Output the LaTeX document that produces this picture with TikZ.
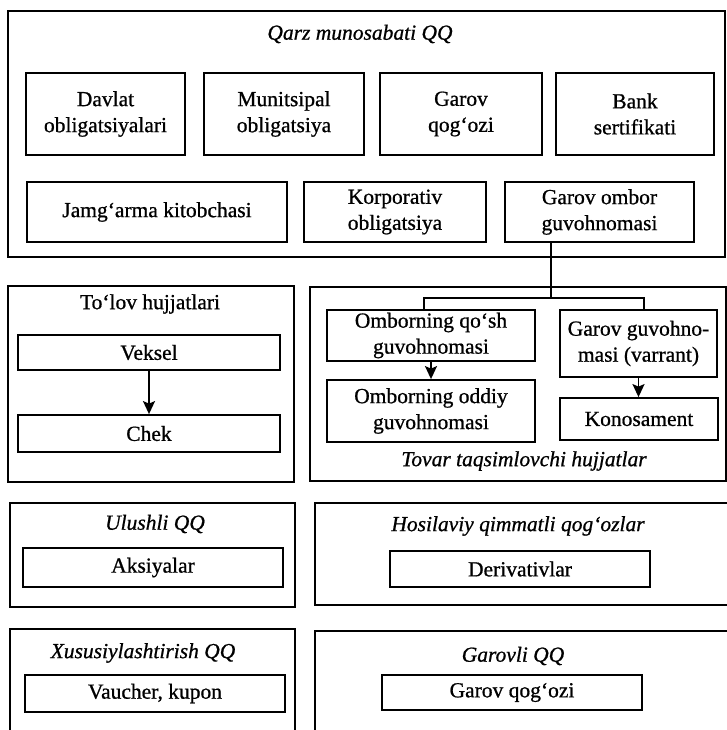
\documentclass[tikz,border=0pt]{standalone}
\usepackage{fontspec}
\setmainfont{Liberation Serif}[FakeBold=0.8]
\usetikzlibrary{arrows.meta}
\begin{document}
\begin{tikzpicture}[x=1pt,y=-1pt, line width=1.8pt,
  box/.style={draw, inner sep=2pt, align=center, font=\fontsize{21.5}{26}\selectfont},
  cont/.style={draw, inner sep=0pt},
  ttl/.style={inner sep=0pt, font=\fontsize{21.5}{26}\selectfont\itshape},
  ttlup/.style={inner sep=0pt, font=\fontsize{21.5}{26}\selectfont},
  arr/.style={-{Stealth[length=13pt,width=12pt,inset=2.5pt]}}]
\useasboundingbox (0,0) rectangle (727,730);
\clip (0,0) rectangle (727,730);
\fill[white] (0,0) rectangle (727,730);

% ---- Qarz munosabati QQ ----
\node[cont, minimum width=717pt, minimum height=246pt] (qarz) at (366.5,134) {};
\node[ttl] (tqarz) at (360,34) {Qarz munosabati QQ};
\node[box, minimum width=159pt, minimum height=82pt] (davlat) at (105.5,114) {Davlat\\obligatsiyalari};
\node[box, minimum width=160pt, minimum height=82pt] (munits) at (284,114) {Munitsipal\\obligatsiya};
\node[box, minimum width=162pt, minimum height=82pt] (garov1) at (461,114) {Garov\\qog‘ozi};
\node[box, minimum width=158pt, minimum height=82pt] (bank) at (635,114) {Bank\\sertifikati};
\node[box, minimum width=260pt, minimum height=60pt] (jamg) at (157,212) {Jamg‘arma kitobchasi};
\node[box, minimum width=182pt, minimum height=60pt] (korp) at (395,212) {Korporativ\\obligatsiya};
\node[box, minimum width=189pt, minimum height=60pt] (gombor) at (599.5,212) {Garov ombor\\guvohnomasi};

% ---- To'lov hujjatlari ----
\node[cont, minimum width=286pt, minimum height=196pt] (tolov) at (151,384) {};
\node[ttlup] (ttolov) at (150,304) {To‘lov hujjatlari};
\node[box, minimum width=262pt, minimum height=35pt] (veksel) at (149,352.5) {Veksel};
\node[box, minimum width=262pt, minimum height=37pt] (chek) at (149,433.5) {Chek};
\draw[arr] (veksel) -- (chek);

% ---- Tovar taqsimlovchi hujjatlar ----
\node[cont, minimum width=416pt, minimum height=194pt] (tovar) at (518,384) {};
\node[ttl] (ttovar) at (524,461) {Tovar taqsimlovchi hujjatlar};
\node[box, minimum width=208pt, minimum height=51pt] (oqosh) at (431,335.5) {Omborning qo‘sh\\guvohnomasi};
\node[box, minimum width=208pt, minimum height=62pt] (ooddiy) at (431,411) {Omborning oddiy\\guvohnomasi};
\node[box, minimum width=157pt, minimum height=67pt] (garguv) at (638.5,343.5) {Garov guvohno-\\masi (varrant)};
\node[box, minimum width=158pt, minimum height=42pt] (konos) at (639,419) {Konosament};
\draw[arr] (oqosh) -- (ooddiy);
\draw[arr] (garguv.south) -- (garguv.south |- konos.north);

\coordinate (jn) at (551,298);
\coordinate (bl) at (424,298);
\coordinate (br) at (644,298);
\draw (gombor.south -| jn) -- (jn);
\draw (bl |- oqosh.north) -- (bl) -- (br) -- (br |- garguv.north);

% ---- Ulushli QQ ----
\node[cont, minimum width=285pt, minimum height=104pt] (ulush) at (152.5,555) {};
\node[ttl] (tulush) at (155,524) {Ulushli QQ};
\node[box, minimum width=260pt, minimum height=39pt] (aksiy) at (153,567.5) {Aksiyalar};

% ---- Hosilaviy ----
\node[cont, minimum width=445pt, minimum height=102pt] (hosil) at (537.5,554) {};
\node[ttl] (thosil) at (518,526) {Hosilaviy qimmatli qog‘ozlar};
\node[box, minimum width=260pt, minimum height=36pt] (deriv) at (520,569) {Derivativlar};

% ---- Xususiylashtirish QQ ----
\node[cont, minimum width=285pt, minimum height=131pt] (xusus) at (152.5,694.5) {};
\node[ttl] (txusus) at (143,653) {Xususiylashtirish QQ};
\node[box, minimum width=260pt, minimum height=37pt] (vauch) at (155,693.5) {Vaucher, kupon};

% ---- Garovli QQ ----
\node[cont, minimum width=445pt, minimum height=129pt] (garovli) at (537.5,695.5) {};
\node[ttl] (tgarovli) at (513,656) {Garovli QQ};
\node[box, minimum width=260pt, minimum height=35pt] (gqog) at (512,692.5) {Garov qog‘ozi};
\end{tikzpicture}
\end{document}
